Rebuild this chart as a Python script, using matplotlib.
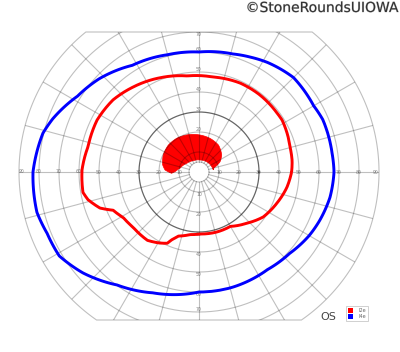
import numpy as np
import matplotlib.pyplot as plt
import matplotlib.patheffects as pe
from matplotlib.patches import Polygon, Patch, PathPatch
from matplotlib.path import Path

# grid of the Goldmann chart (degrees)
rings = [5, 10, 20, 30, 40, 50, 60, 70, 80, 90]
meridians = list(range(0, 360, 15))
h_labels = [10, 20, 30, 40, 50, 60, 70, 80, 90]
v_labels = [10, 20, 30, 40, 50, 60, 70]
top_cut = 70
bottom_cut = 74

# I4e isopter (blue): meridian angle (deg), eccentricity (deg)
i4e_ang = [0, 8, 15, 23, 30, 45, 58, 66, 74, 90, 105, 122, 137, 148, 160, 166,
           180, 194, 202, 211, 221, 234, 249, 270, 286, 305, 318, 330, 338, 349]
i4e_r = [67.5, 67.2, 67.2, 67.2, 66.2, 66.8, 64.6, 62.9, 61.4, 60, 60.7, 62.9, 68.3, 71.6, 77.8, 80.4,
         83, 83.5, 81.9, 81.5, 76.9, 69.8, 64.7, 60, 60, 59.6, 60.9, 63.6, 65, 66.7]

# I2e isopter (red)
i2e_ang = [0, 7, 15, 32, 37, 52, 65, 82, 97, 112, 128, 140, 153, 167, 179, 190, 194,
           200, 204, 211, 220, 233, 241, 246, 248, 252, 262, 271, 287, 300, 313, 325, 338, 350]
i2e_r = [46.3, 46.9, 47.2, 49, 48.9, 49.1, 49, 48, 48.4, 50.9, 53.8, 56.1, 57.2, 56.9, 58.5, 58.9, 57.2,
         52.7, 47, 44.2, 43, 42.8, 40.6, 39, 36.6, 33.7, 31.6, 31, 31.3, 31.4, 35, 39.2, 41.9, 44.6]

# filled central area (outer edge then inner edge)
scot_ang = [8, 14.5, 26, 37, 54, 72, 88.5, 108, 123.5, 139, 154.5, 169, 176.6, 182.7, 179.3,
            169, 145, 117, 85, 53, 23]
scot_r = [7.2, 7.4, 11.7, 14.2, 16.6, 17.7, 18.5, 19.5, 20.2, 20.4, 19.8, 18.5, 17, 13.7, 12,
          9.7, 7.5, 6.3, 6, 6.4, 6.9]


def polar_path(ang, r, wrap=True):
    # closed path; wrap=True when the outline goes all the way round the centre
    a = list(ang) + [ang[0] + (360 if wrap else 0)]
    rr = list(r) + [r[0]]
    return Path(np.column_stack([np.radians(a), rr]), _interpolation_steps=40)


fig = plt.figure(figsize=(4, 3.52), dpi=100)
ax = fig.add_axes([19 / 400, 0, 360 / 400, 360 / 352], projection='polar')
ax.set_ylim(0, 90)
ax.set_xticks([])
ax.set_yticks([])
ax.grid(False)
ax.spines['polar'].set_visible(False)
ax.patch.set_visible(False)

# outline: 90 deg circle cut flat at top and bottom
a_top = np.arcsin(top_cut / 90)
a_bot = np.arcsin(bottom_cut / 90)
t = np.concatenate([np.linspace(-a_bot, a_top, 120),
                    np.linspace(np.pi - a_top, np.pi + a_bot, 120)])
xy = np.column_stack([0.5 + 0.5 * np.cos(t), 0.5 + 0.5 * np.sin(t)])
border = Polygon(xy, closed=True, transform=ax.transAxes, fill=False,
                 edgecolor='k', alpha=0.25, lw=0.8)
border.set_clip_on(False)
ax.add_patch(border)

th = np.linspace(0, 2 * np.pi, 721)
for r in rings[:-1]:
    dark = r == 30
    ln, = ax.plot(th, np.full_like(th, r), color='k', alpha=0.6 if dark else 0.25,
                  lw=0.9 if dark else 0.8, zorder=2)
    ln.set_clip_path(border)
for m in meridians:
    ln, = ax.plot([np.radians(m)] * 2, [5, 90], color='k', alpha=0.25, lw=0.8, zorder=2)
    ln.set_clip_path(border)

lab = dict(fontsize=3.3, color='#888888', ha='center', va='center', zorder=1)
for d in h_labels:
    rr = d - 1.5 if d == 90 else d
    ax.text(0, rr, str(d), **lab)
    ax.text(np.pi, rr, str(d), **lab)
for d in v_labels:
    rr = d - 1.2 if d == 70 else d + 1.2
    ax.text(np.pi / 2, rr, str(d), **lab)
    ax.text(3 * np.pi / 2, rr, str(d), **lab)

ax.add_patch(PathPatch(polar_path(scot_ang, scot_r, wrap=False), facecolor='red',
                       edgecolor='red', lw=0.5, zorder=1.5))
ax.add_patch(PathPatch(polar_path(i2e_ang, i2e_r), fill=False, edgecolor='red',
                       lw=2.1, joinstyle='round', zorder=3))
ax.add_patch(PathPatch(polar_path(i4e_ang, i4e_r), fill=False, edgecolor='blue',
                       lw=2.1, joinstyle='round', zorder=3))

handles = [Patch(facecolor='red', edgecolor='none'), Patch(facecolor='blue', edgecolor='none')]
leg = fig.legend(handles, ['I2e', 'I4e'], loc='lower left',
                 bbox_to_anchor=(346 / 400, 1 - 321 / 352), fontsize=3.5, frameon=True,
                 fancybox=False, edgecolor='#bbbbbb', handlelength=1.0, handleheight=1.0,
                 borderpad=0.35, labelspacing=0.25, handletextpad=1.2, borderaxespad=0)
leg.get_frame().set_linewidth(0.6)
for txt in leg.get_texts():
    txt.set_color('#666666')

fig.text(328 / 400, 1 - 316.7 / 352, 'OS', fontsize=8, color='#444444', ha='center', va='center')
fig.text(398 / 400, 1 - 8 / 352, '\u00a9StoneRoundsUIOWA', fontsize=10, color='#333333',
         ha='right', va='center',
         path_effects=[pe.Stroke(linewidth=0.6, foreground='#cccccc'), pe.Normal()])

fig.savefig('out.png', dpi=100)
